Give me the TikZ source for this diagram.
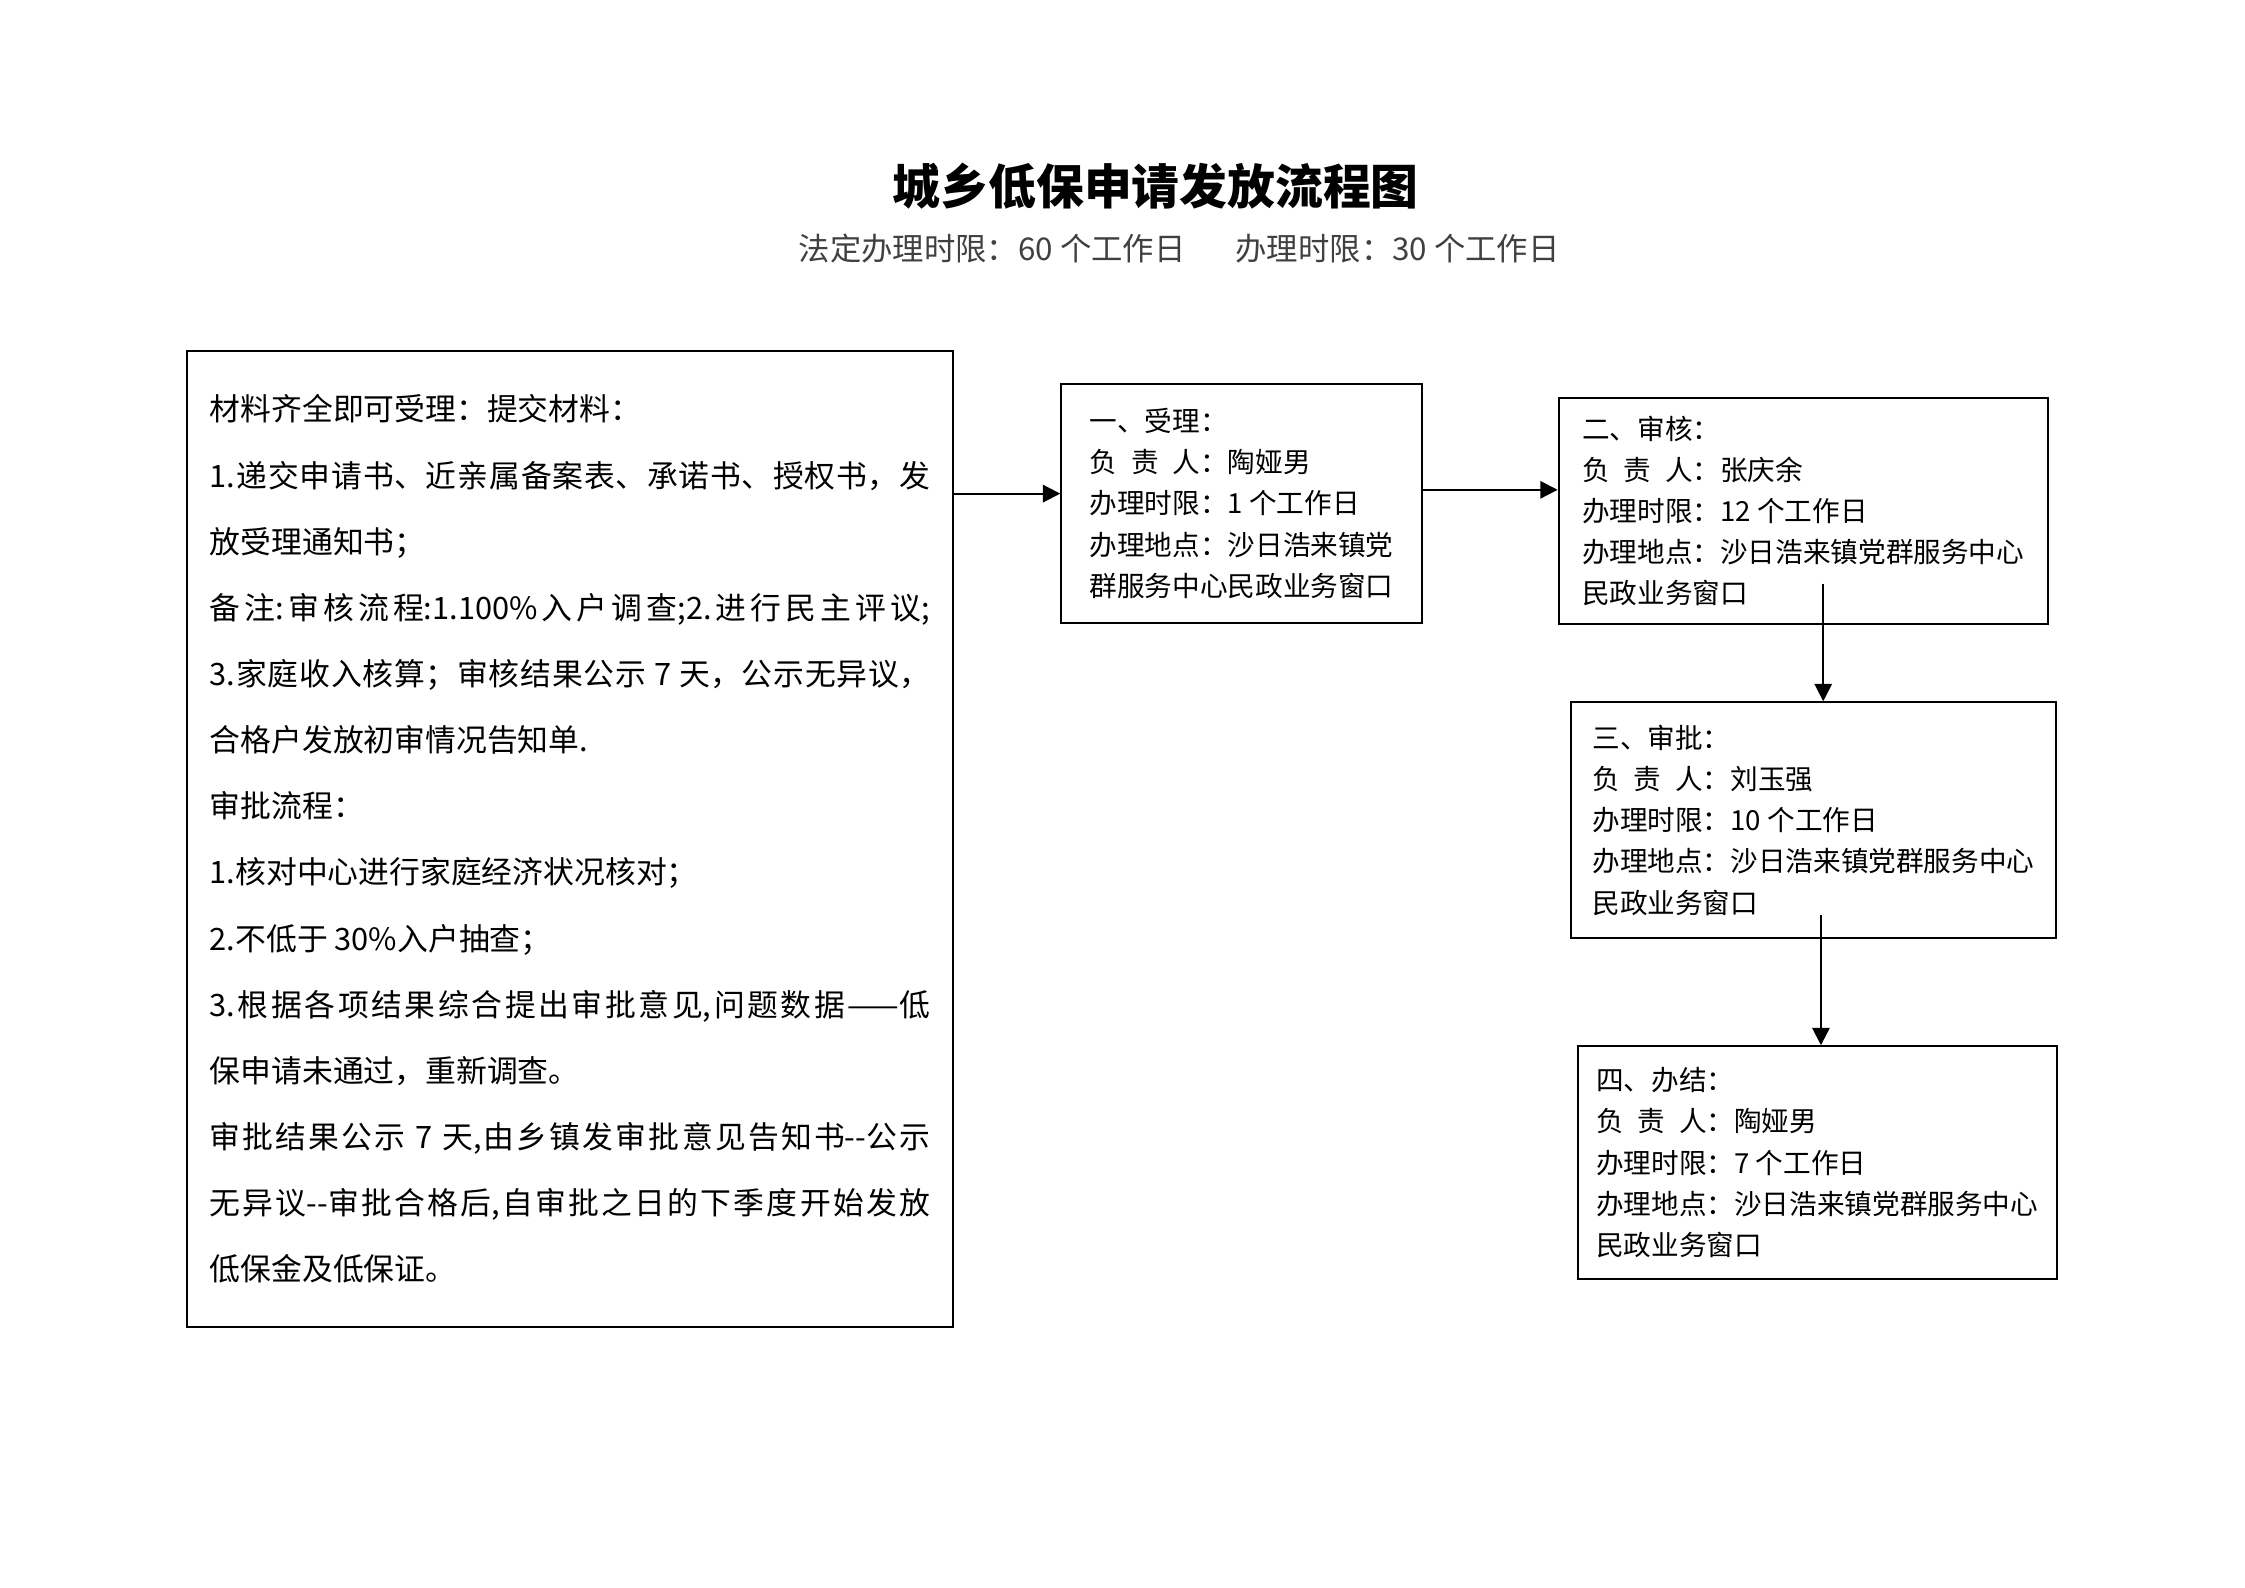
\documentclass[tikz,border=0pt]{standalone}
\usepackage{fontspec}
\setmainfont{Noto Sans CJK SC}
\usepackage{tikz}
\usetikzlibrary{arrows.meta}
\XeTeXlinebreaklocale "zh"
\XeTeXlinebreakskip = 0pt plus 1pt

\begin{document}
\begin{tikzpicture}[
        stage/.style={draw, line width=0.75pt, align=left, inner sep=0pt,
            font=\fontsize{10.4}{15.5}\selectfont},
        notebox/.style={draw, line width=0.75pt, align=justify, text width=9.53cm,
            inner xsep=0.3cm, inner ysep=0pt, minimum height=12.92cm,
            font=\fontsize{11.6}{24.9}\selectfont},
        arr/.style={-{Triangle[length=2.3mm,width=2.3mm]}, line width=0.75pt}]
        \useasboundingbox (0,0) rectangle (29.7,-21.0);

        \node[font=\fontsize{18}{22}\selectfont\bfseries] (title) at (15.29,-2.46) {城乡低保申请发放流程图};
        \node[font=\fontsize{11.8}{14}\selectfont, text=black!75] (limits) at (15.6,-3.29)
            {法定办理时限：60 个工作日\hspace{1.6em}办理时限：30 个工作日};

        % material list
        \node[notebox] (rules) at (7.54,-11.10) {材料齐全即可受理：提交材料：\\
1.递交申请书、近亲属备案表、承诺书、授权书，发\linebreak
放受理通知书；\\
备注:审核流程:1.100\%入户调查;2.进行民主评议;\linebreak
3.家庭收入核算；审核结果公示 7 天，公示无异议，\linebreak
合格户发放初审情况告知单.\\
审批流程：\\
1.核对中心进行家庭经济状况核对；\\
2.不低于 30\%入户抽查；\\
3.根据各项结果综合提出审批意见,问题数据——低\linebreak
保申请未通过，重新调查。\\
审批结果公示 7 天,由乡镇发审批意见告知书-{}-公示\linebreak
无异议-{}-审批合格后,自审批之日的下季度开始发放\linebreak
低保金及低保证。};

        % the four steps
        \node[stage, minimum width=4.77cm, minimum height=3.16cm] (accept) at (16.425,-6.66)
            {一、受理：\\ 负\hspace{0.5em}责\hspace{0.5em}人：陶娅男\\ 办理时限：1 个工作日\\ 办理地点：沙日浩来镇党\\ 群服务中心民政业务窗口};
        \node[stage, minimum width=6.47cm, minimum height=2.98cm] (review) at (23.855,-6.76)
            {二、审核：\\ 负\hspace{0.5em}责\hspace{0.5em}人：张庆余\\ 办理时限：12 个工作日\\ 办理地点：沙日浩来镇党群服务中心\\ 民政业务窗口};
        \node[stage, minimum width=6.42cm, minimum height=3.12cm] (approve) at (23.99,-10.85)
            {三、审批：\\ 负\hspace{0.5em}责\hspace{0.5em}人：刘玉强\\ 办理时限：10 个工作日\\ 办理地点：沙日浩来镇党群服务中心\\ 民政业务窗口};
        \node[stage, minimum width=6.34cm, minimum height=3.08cm] (finish) at (24.04,-15.38)
            {四、办结：\\ 负\hspace{0.5em}责\hspace{0.5em}人：陶娅男\\ 办理时限：7 个工作日\\ 办理地点：沙日浩来镇党群服务中心\\ 民政业务窗口};

        \coordinate (down1) at (24.12,-7.72);
        \coordinate (down2) at (24.09,-12.10);

        \draw[arr] ([yshift=1.3mm]accept.west -| rules.east) -- ([yshift=1.3mm]accept.west);
        \draw[arr] ([yshift=1.8mm]accept.east) -- ([yshift=1.8mm]accept.east -| review.west);
        \draw[arr] (down1) -- (down1 |- approve.north);
        \draw[arr] (down2) -- (down2 |- finish.north);
    \end{tikzpicture}
\end{document}
